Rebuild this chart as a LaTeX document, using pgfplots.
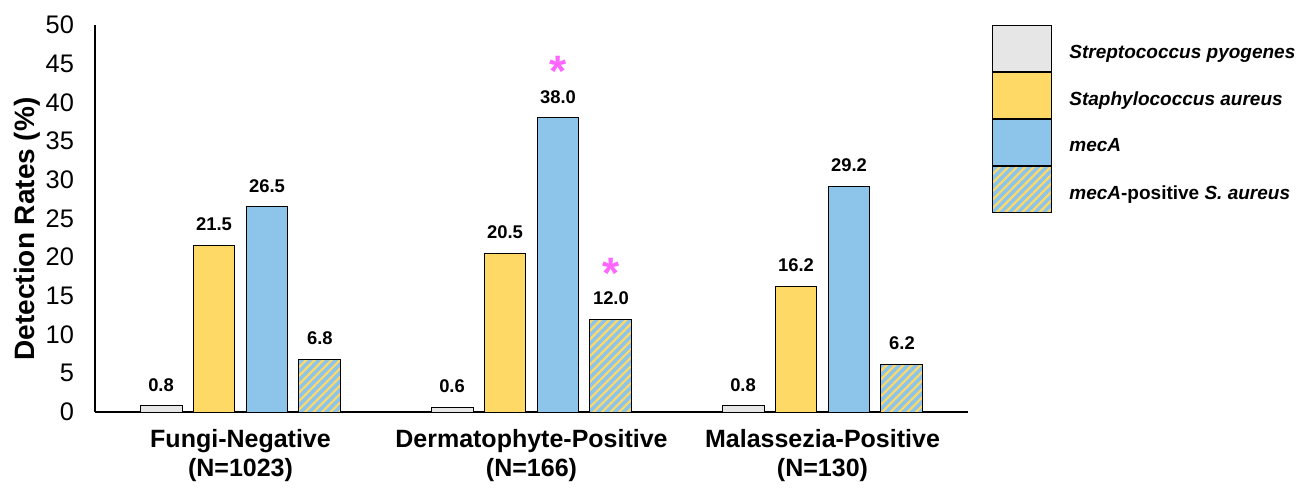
\documentclass[border=0pt]{standalone}
\usepackage{pgfplots}
\pgfplotsset{compat=1.18}
\usepackage{fontspec}
\setmainfont{Liberation Sans}
\usetikzlibrary{patterns.meta}
\definecolor{cgray}{HTML}{E6E6E6}
\definecolor{cyel}{HTML}{FFD966}
\definecolor{cblue}{HTML}{8DC5EA}
\definecolor{cmag}{HTML}{FF66FF}
\begin{document}
\begin{tikzpicture}
\begin{axis}[
  scale only axis,
  width=436.5pt, height=193.5pt,
  ymin=0, ymax=50, ytick={0,5,...,50},
  xmin=-0.5, xmax=2.5,
  xtick={0,1,2},
  xticklabels={{Fungi-Negative\\(N=1023)},{Dermatophyte-Positive\\(N=166)},{Malassezia-Positive\\(N=130)}},
  axis lines=left,
  axis line style={line width=1pt, -},
  major tick length=0pt,
  /pgf/number format/assume math mode=true,
  yticklabel style={font=\fontsize{12.7}{14}\selectfont, xshift=-7pt},
  xticklabel style={font=\bfseries\fontsize{12.5}{14.5}\selectfont, align=center, yshift=-5pt},
  ylabel={Detection Rates (\%)},
  every axis y label/.style={at={(axis description cs:-0.078,0.473)}, rotate=90, anchor=center, font=\bfseries\fontsize{14}{16}\selectfont},
  ybar, bar width=0.144,
  nodes near coords,
  nodes near coords style={font=\bfseries\fontsize{9.2}{11}\selectfont, inner sep=0pt, anchor=south, yshift=7pt, /pgf/number format/.cd, fixed, fixed zerofill, precision=1},
  legend style={at={(axis description cs:1.0275,1.0)}, anchor=north west, draw=none, fill=none, inner sep=0pt, row sep=0pt, font=\bfseries\itshape\fontsize{9.5}{11}\selectfont, legend cell align=left, nodes={inner sep=0pt}, /tikz/every odd column/.append style={column sep=8.5pt}},
  legend image code/.code={\draw[#1, bar shift=0pt] (0pt,0.2em-11.5pt) rectangle (29.5pt,0.2em+11.5pt);},
  clip=false,
]
\addplot[draw=black, line width=0.5pt, fill=cgray, bar shift=-0.273] coordinates {(0,0.8) (1,0.6) (2,0.8)};
\addlegendentry{Streptococcus pyogenes}
\addplot[draw=black, line width=0.5pt, fill=cyel, bar shift=-0.091] coordinates {(0,21.5) (1,20.5) (2,16.2)};
\addlegendentry{Staphylococcus aureus}
\addplot[draw=black, line width=0.5pt, fill=cblue, bar shift=0.091] coordinates {(0,26.5) (1,38.0) (2,29.2)};
\addlegendentry{mecA}
\addplot[draw=black, line width=0.5pt, fill=cblue, postaction={pattern={Lines[angle=45,distance=3pt,line width=1.1pt]}, pattern color=cyel}, bar shift=0.273] coordinates {(0,6.8) (1,12.0) (2,6.2)};
\addlegendentry{mecA\textup{-positive} S. aureus}
\node[text=cmag, font=\bfseries\fontsize{22}{24}\selectfont, inner sep=0pt, anchor=base] at (axis cs:1.091,42.0) {\smash{*}};
\node[text=cmag, font=\bfseries\fontsize{22}{24}\selectfont, inner sep=0pt, anchor=base] at (axis cs:1.273,16.0) {\smash{*}};
\end{axis}
\path (-47.5pt,-37pt) rectangle (603pt,206pt);
\end{tikzpicture}
\end{document}
